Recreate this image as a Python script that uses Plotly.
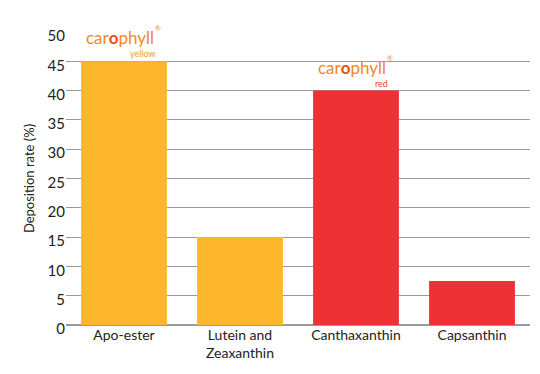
import plotly.graph_objects as go

categories = ["Apo-ester", "Lutein and<br>Zeaxanthin", "Canthaxanthin", "Capsanthin"]
values = [45, 15, 40, 7.5]
colors = ["#FBB62B", "#FBB62B", "#EE3134", "#EE3134"]
tick_vals = [0, 5, 10, 15, 20, 25, 30, 35, 40, 45, 50]

FONT = "Lato"

fig = go.Figure(go.Bar(x=categories, y=values, marker=dict(color=colors, line=dict(width=0)),
                       width=0.74))

logo = "<span style='color:#F08A24'>car</span><span style='color:#E8501C'><b>o</b></span><span style='color:#F08A24'>phyll</span>"
for xi, yi, sub, subcol in [(0, 45, "yellow", "#E8A020"), (2, 40, "red", "#E8402C")]:
    fig.add_annotation(x=xi, y=yi, xref="x", yref="y", text=logo, showarrow=False,
                       yanchor="bottom", yshift=11, xshift=-4, font=dict(family=FONT, size=17))
    fig.add_annotation(x=xi, y=yi, xref="x", yref="y", text="®", showarrow=False,
                       xanchor="left", yanchor="bottom", yshift=27, xshift=29,
                       font=dict(family=FONT, size=7, color="#F08A24"))
    fig.add_annotation(x=xi, y=yi, xref="x", yref="y", text=sub, showarrow=False,
                       xanchor="right", yanchor="bottom", xshift=34, yshift=0,
                       font=dict(family=FONT, size=9, color=subcol))

fig.update_layout(
    width=532, height=366,
    margin=dict(l=58, r=10, t=24, b=49, autoexpand=False),
    paper_bgcolor="white", plot_bgcolor="white",
    showlegend=False,
    bargap=0.26,
    font=dict(family=FONT, size=14, color="#222"),
)
fig.update_xaxes(showgrid=False, showline=False, ticks="", automargin=False,
                 tickfont=dict(size=14, family=FONT))
fig.update_yaxes(range=[0, 50], tickvals=tick_vals, showgrid=True, gridcolor="#9a9a9a", gridwidth=1,
                 zeroline=True, zerolinecolor="#9a9a9a", showline=False, ticks="", automargin=False,
                 tickfont=dict(size=15, family=FONT), ticklabelshift=4,
                 title=dict(text="Deposition rate (%)", font=dict(size=13, family=FONT), standoff=10))

fig.write_html("out.html")
